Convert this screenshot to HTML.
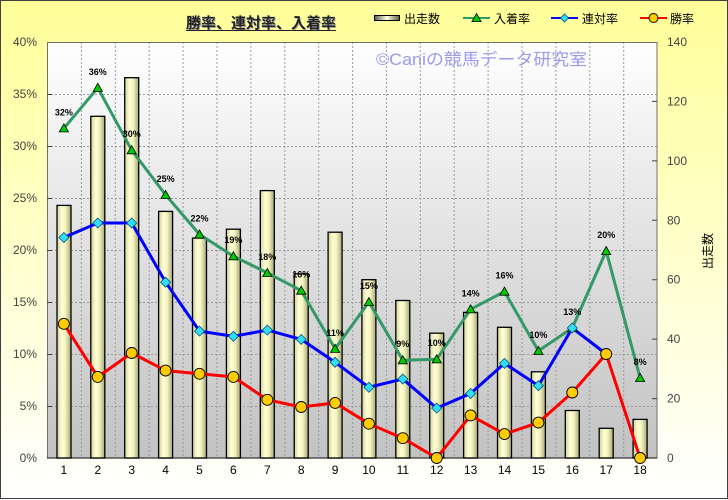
<!DOCTYPE html>
<html><head><meta charset="utf-8"><style>
html,body{margin:0;padding:0;background:#fff;}
svg{display:block;}
text{font-family:"Liberation Sans","Noto Sans CJK JP",sans-serif;}
</style></head><body>
<svg width="728" height="500" viewBox="0 0 728 500" xmlns="http://www.w3.org/2000/svg">
<defs>
<linearGradient id="bg" x1="0" y1="0" x2="0" y2="1"><stop offset="0" stop-color="#ffff99"/><stop offset="1" stop-color="#ffffff"/></linearGradient>
<linearGradient id="pa" x1="0" y1="0" x2="0" y2="1"><stop offset="0" stop-color="#ffffff"/><stop offset="1" stop-color="#c2c2c2"/></linearGradient>
<linearGradient id="bar" x1="0" y1="0" x2="1" y2="0"><stop offset="0" stop-color="#d0d098"/><stop offset="0.35" stop-color="#ffffd6"/><stop offset="0.6" stop-color="#f4f4c0"/><stop offset="1" stop-color="#a8a878"/></linearGradient>
<linearGradient id="lbar" x1="0" y1="0" x2="1" y2="0"><stop offset="0" stop-color="#606040"/><stop offset="0.5" stop-color="#ffffee"/><stop offset="1" stop-color="#606040"/></linearGradient>
<path id="tri" d="M0,-4.5 L4.6,3.6 L-4.6,3.6Z" fill="#00cc00" stroke="#000" stroke-width="0.8"/>
<path id="dia" d="M0,-5 L5,0 L0,5 L-5,0Z" fill="#33ddff" stroke="#005577" stroke-width="0.8"/>
<circle id="cir" r="5.5" fill="#ffcc00" stroke="#000" stroke-width="0.9"/>
</defs>
<rect x="0.5" y="0.5" width="727" height="498" fill="url(#bg)" stroke="#404040" stroke-width="1"/>

<!-- plot area -->
<rect x="47" y="42" width="610" height="416" fill="url(#pa)"/>
<g stroke="#9a9a9a" stroke-width="1" stroke-dasharray="2,2" fill="none">
<path d="M47,94.5H657M47,146.5H657M47,198.5H657M47,250.5H657M47,302.5H657M47,354.5H657M47,406.5H657"/>
<path d="M81.4,42V458M115.3,42V458M149.2,42V458M183.1,42V458M217,42V458M250.9,42V458M284.8,42V458M318.7,42V458M352.6,42V458M386.4,42V458M420.3,42V458M454.2,42V458M488.1,42V458M522,42V458M555.9,42V458M589.8,42V458M623.7,42V458"/>
</g>
<rect x="47.5" y="42.5" width="609.5" height="415.5" fill="none" stroke="#707070" stroke-width="1"/>
<g stroke="#404040" stroke-width="1">
<path d="M47,94.5h5M47,146.5h5M47,198.5h5M47,250.5h5M47,302.5h5M47,354.5h5M47,406.5h5"/>
<path d="M652,398.6h5M652,339.1h5M652,279.7h5M652,220.3h5M652,160.9h5M652,101.4h5"/>
</g>
<line x1="47" y1="458" x2="657" y2="458" stroke="#333" stroke-width="1.2"/>

<!-- bars -->
<g fill="url(#bar)" stroke="#000" stroke-width="1.3">
<rect x="57" y="205.4" width="14" height="252.6"/>
<rect x="90.8" y="116.3" width="14" height="341.7"/>
<rect x="124.7" y="77.7" width="14" height="380.3"/>
<rect x="158.6" y="211.4" width="14" height="246.6"/>
<rect x="192.5" y="238.1" width="14" height="219.9"/>
<rect x="226.4" y="229.2" width="14" height="228.8"/>
<rect x="260.3" y="190.6" width="14" height="267.4"/>
<rect x="294.2" y="273.8" width="14" height="184.2"/>
<rect x="328.1" y="232.2" width="14" height="225.8"/>
<rect x="361.9" y="279.7" width="14" height="178.3"/>
<rect x="395.8" y="300.5" width="14" height="157.5"/>
<rect x="429.7" y="333.2" width="14" height="124.8"/>
<rect x="463.6" y="312.4" width="14" height="145.6"/>
<rect x="497.5" y="327.3" width="14" height="130.7"/>
<rect x="531.4" y="371.8" width="14" height="86.2"/>
<rect x="565.3" y="410.5" width="14" height="47.5"/>
<rect x="599.2" y="428.3" width="14" height="29.7"/>
<rect x="633.1" y="419.4" width="14" height="38.6"/>
</g>

<!-- lines -->
<g fill="none" stroke-width="3" stroke-linejoin="round" stroke-linecap="round">
<polyline stroke="#339966" points="63.9,128.3 97.8,87.8 131.7,150.2 165.6,194.9 199.5,234.4 233.4,256.2 267.3,272.9 301.2,290.6 335.1,348.8 368.9,302 402.8,360.2 436.7,359.2 470.6,309.3 504.5,291.6 538.4,350.9 572.3,328 606.2,251 640.1,377.9"/>
<polyline stroke="#0000ff" points="63.9,237.5 97.8,223 131.7,223 165.6,282.2 199.5,331.1 233.4,336.3 267.3,330.1 301.2,339.4 335.1,362.3 368.9,387.3 402.8,379 436.7,408.1 470.6,393.5 504.5,363.4 538.4,385.7 572.3,328 606.2,354"/>
<polyline stroke="#ff0000" points="63.9,323.8 97.8,376.9 131.7,353 165.6,370.6 199.5,373.8 233.4,376.9 267.3,399.8 301.2,407 335.1,402.9 368.9,423.7 402.8,438.2 436.7,458 470.6,415.4 504.5,434.1 538.4,422.6 572.3,392.5 606.2,354 640.1,458"/>
</g>

<!-- markers -->
<g>
<use href="#tri" x="63.9" y="128.3"/><use href="#tri" x="97.8" y="87.8"/><use href="#tri" x="131.7" y="150.2"/><use href="#tri" x="165.6" y="194.9"/><use href="#tri" x="199.5" y="234.4"/><use href="#tri" x="233.4" y="256.2"/><use href="#tri" x="267.3" y="272.9"/><use href="#tri" x="301.2" y="290.6"/><use href="#tri" x="335.1" y="348.8"/><use href="#tri" x="368.9" y="302"/><use href="#tri" x="402.8" y="360.2"/><use href="#tri" x="436.7" y="359.2"/><use href="#tri" x="470.6" y="309.3"/><use href="#tri" x="504.5" y="291.6"/><use href="#tri" x="538.4" y="350.9"/><use href="#tri" x="572.3" y="328"/><use href="#tri" x="606.2" y="251"/><use href="#tri" x="640.1" y="377.9"/>
</g>
<g>
<use href="#dia" x="63.9" y="237.5"/><use href="#dia" x="97.8" y="223"/><use href="#dia" x="131.7" y="223"/><use href="#dia" x="165.6" y="282.2"/><use href="#dia" x="199.5" y="331.1"/><use href="#dia" x="233.4" y="336.3"/><use href="#dia" x="267.3" y="330.1"/><use href="#dia" x="301.2" y="339.4"/><use href="#dia" x="335.1" y="362.3"/><use href="#dia" x="368.9" y="387.3"/><use href="#dia" x="402.8" y="379"/><use href="#dia" x="436.7" y="408.1"/><use href="#dia" x="470.6" y="393.5"/><use href="#dia" x="504.5" y="363.4"/><use href="#dia" x="538.4" y="385.7"/><use href="#dia" x="572.3" y="328"/><use href="#dia" x="606.2" y="354"/>
</g>
<g>
<use href="#cir" x="63.9" y="323.8"/><use href="#cir" x="97.8" y="376.9"/><use href="#cir" x="131.7" y="353"/><use href="#cir" x="165.6" y="370.6"/><use href="#cir" x="199.5" y="373.8"/><use href="#cir" x="233.4" y="376.9"/><use href="#cir" x="267.3" y="399.8"/><use href="#cir" x="301.2" y="407"/><use href="#cir" x="335.1" y="402.9"/><use href="#cir" x="368.9" y="423.7"/><use href="#cir" x="402.8" y="438.2"/><use href="#cir" x="436.7" y="458"/><use href="#cir" x="470.6" y="415.4"/><use href="#cir" x="504.5" y="434.1"/><use href="#cir" x="538.4" y="422.6"/><use href="#cir" x="572.3" y="392.5"/><use href="#cir" x="606.2" y="354"/><use href="#cir" x="640.1" y="458"/>
</g>

<!-- data labels -->
<g font-size="9" font-weight="bold" fill="#000" text-anchor="middle">
<text x="63.9" y="115.3">32%</text><text x="97.8" y="74.8">36%</text><text x="131.7" y="137.2">30%</text><text x="165.6" y="181.9">25%</text><text x="199.5" y="221.4">22%</text><text x="233.4" y="243.2">19%</text><text x="267.3" y="259.9">18%</text><text x="301.2" y="277.6">16%</text><text x="335.1" y="335.8">11%</text><text x="368.9" y="289">15%</text><text x="402.8" y="347.2">9%</text><text x="436.7" y="346.2">10%</text><text x="470.6" y="296.3">14%</text><text x="504.5" y="278.6">16%</text><text x="538.4" y="337.9">10%</text><text x="572.3" y="315">13%</text><text x="606.2" y="238">20%</text><text x="640.1" y="364.9">8%</text>
</g>

<!-- watermark -->
<text x="376" y="65" font-size="16.5" fill="#9a9af0" textLength="211" lengthAdjust="spacingAndGlyphs">©Caniの競馬データ研究室</text>

<!-- left axis labels -->
<g font-size="12" fill="#444" text-anchor="end">
<text x="37" y="46">40%</text><text x="37" y="98">35%</text><text x="37" y="150">30%</text><text x="37" y="202">25%</text><text x="37" y="254">20%</text><text x="37" y="306">15%</text><text x="37" y="358">10%</text><text x="37" y="410">5%</text><text x="37" y="462">0%</text>
</g>
<!-- right axis labels -->
<g font-size="12" fill="#444">
<text x="667" y="46">140</text><text x="667" y="105.4">120</text><text x="667" y="164.9">100</text><text x="667" y="224.3">80</text><text x="667" y="283.7">60</text><text x="667" y="343.1">40</text><text x="667" y="402.6">20</text><text x="667" y="462">0</text>
</g>
<text x="0" y="0" font-size="12" fill="#000" text-anchor="middle" transform="translate(712,251) rotate(-90)">出走数</text>

<!-- x labels -->
<g font-size="12" fill="#000" text-anchor="middle">
<text x="63.9" y="474">1</text><text x="97.8" y="474">2</text><text x="131.7" y="474">3</text><text x="165.6" y="474">4</text><text x="199.5" y="474">5</text><text x="233.4" y="474">6</text><text x="267.3" y="474">7</text><text x="301.2" y="474">8</text><text x="335.1" y="474">9</text><text x="368.9" y="474">10</text><text x="402.8" y="474">11</text><text x="436.7" y="474">12</text><text x="470.6" y="474">13</text><text x="504.5" y="474">14</text><text x="538.4" y="474">15</text><text x="572.3" y="474">16</text><text x="606.2" y="474">17</text><text x="640.1" y="474">18</text>
</g>

<!-- title -->
<text x="262" y="29" font-size="15" font-weight="bold" fill="#aaa" text-anchor="middle">勝率、連対率、入着率</text>
<text x="261" y="28" font-size="15" font-weight="bold" fill="#222" text-anchor="middle">勝率、連対率、入着率</text>
<line x1="186" y1="30.5" x2="336" y2="30.5" stroke="#222" stroke-width="1"/>

<!-- legend -->
<rect x="374.5" y="15.5" width="25" height="5" fill="url(#lbar)" stroke="#000" stroke-width="1"/>
<g font-size="12" fill="#000">
<text x="404" y="23">出走数</text><text x="494" y="23">入着率</text><text x="582" y="23">連対率</text><text x="670" y="23">勝率</text>
</g>
<line x1="463" y1="18" x2="490" y2="18" stroke="#339966" stroke-width="2"/>
<use href="#tri" x="476.5" y="18"/>
<line x1="551" y1="18" x2="578" y2="18" stroke="#0000ff" stroke-width="2"/>
<path d="M564.5,14 L568.5,18 L564.5,22 L560.5,18Z" fill="#33ddff" stroke="#005577" stroke-width="0.8"/>
<line x1="640" y1="18" x2="667" y2="18" stroke="#ff0000" stroke-width="2"/>
<circle cx="653.5" cy="18" r="4.5" fill="#ffcc00" stroke="#000" stroke-width="0.9"/>
</svg>
</body></html>
